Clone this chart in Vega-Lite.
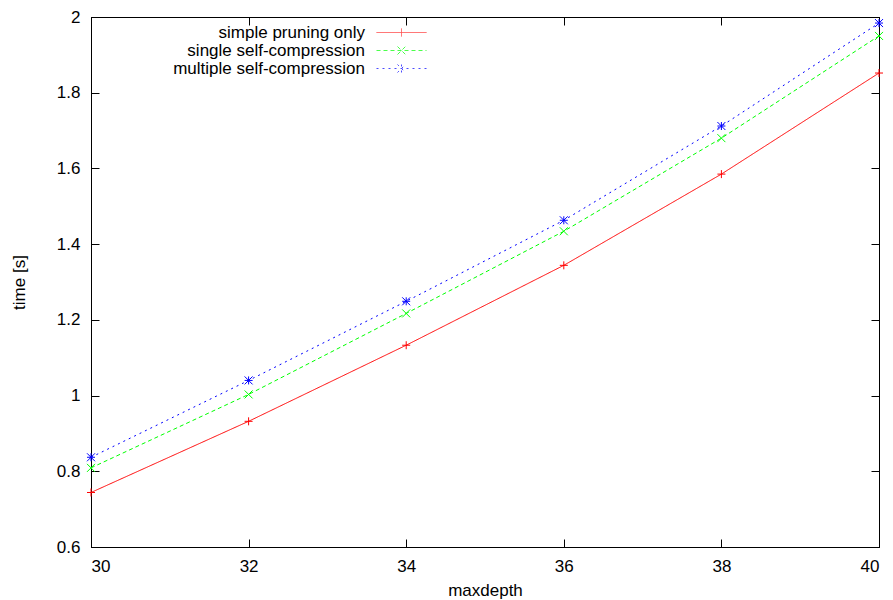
{
  "$schema": "https://vega.github.io/schema/vega-lite/v6.json",
  "width": 788,
  "height": 530,
  "autosize": {"type": "none"},
  "padding": {"left": 91, "top": 17, "right": 14, "bottom": 53},
  "background": "white",
  "config": {
    "font": "Liberation Sans",
    "view": {"stroke": "black", "strokeWidth": 1},
    "axis": {"grid": false, "domainColor": "black", "tickColor": "black", "labelColor": "black", "titleColor": "black", "labelFont": "Liberation Sans", "titleFont": "Liberation Sans", "labelFontSize": 17, "titleFontSize": 17, "titleFontWeight": "normal"},
    "legend": {"orient": "none", "legendX": 302, "legendY": 7, "title": null, "padding": 0, "symbolSize": 100, "symbolStrokeWidth": 1, "labelAlign": "right", "labelOffset": -45, "labelFontSize": 17, "labelFont": "Liberation Sans", "labelColor": "black", "rowPadding": 0, "labelLimit": 0}
  },
  "data": {
    "values": [
      {"series": "simple pruning only", "depth": 30, "time": 0.744},
      {"series": "simple pruning only", "depth": 32, "time": 0.932},
      {"series": "simple pruning only", "depth": 34, "time": 1.133},
      {"series": "simple pruning only", "depth": 36, "time": 1.344},
      {"series": "simple pruning only", "depth": 38, "time": 1.585},
      {"series": "simple pruning only", "depth": 40, "time": 1.852},
      {"series": "single self-compression", "depth": 30, "time": 0.809},
      {"series": "single self-compression", "depth": 32, "time": 1.003},
      {"series": "single self-compression", "depth": 34, "time": 1.217},
      {"series": "single self-compression", "depth": 36, "time": 1.434},
      {"series": "single self-compression", "depth": 38, "time": 1.680},
      {"series": "single self-compression", "depth": 40, "time": 1.950},
      {"series": "multiple self-compression", "depth": 30, "time": 0.837},
      {"series": "multiple self-compression", "depth": 32, "time": 1.040},
      {"series": "multiple self-compression", "depth": 34, "time": 1.249},
      {"series": "multiple self-compression", "depth": 36, "time": 1.463},
      {"series": "multiple self-compression", "depth": 38, "time": 1.712},
      {"series": "multiple self-compression", "depth": 40, "time": 1.984}
    ]
  },
  "layer": [
    {
      "mark": {"type": "line", "strokeWidth": 1, "clip": true},
      "encoding": {
        "x": {"field": "depth", "type": "quantitative", "scale": {"domain": [30, 40], "nice": false, "zero": false},
              "axis": {"orient": "bottom", "title": "maxdepth", "values": [30, 32, 34, 36, 38, 40], "tickSize": -8, "labelPadding": 19, "titlePadding": 8, "domain": true}},
        "y": {"field": "time", "type": "quantitative", "scale": {"domain": [0.6, 2], "nice": false, "zero": false},
              "axis": {"orient": "left", "title": "time [s]", "values": [0.6, 0.8, 1, 1.2, 1.4, 1.6, 1.8, 2], "format": "~g", "tickSize": -8, "labelPadding": 19, "titlePadding": 28, "domain": true}},
        "color": {"field": "series", "type": "nominal", "legend": null,
                  "scale": {"domain": ["simple pruning only", "single self-compression", "multiple self-compression"], "range": ["#ff0000", "#00ff00", "#0000ff"]}},
        "strokeDash": {"field": "series", "type": "nominal", "legend": null,
                  "scale": {"domain": ["simple pruning only", "single self-compression", "multiple self-compression"], "range": [[1, 0], [4, 3], [2, 4]]}}
      }
    },
    {
      "mark": {"type": "point", "filled": false, "strokeWidth": 1, "size": 64, "opacity": 1},
      "encoding": {
        "x": {"field": "depth", "type": "quantitative", "axis": null},
        "y": {"field": "time", "type": "quantitative", "axis": null},
        "color": {"field": "series", "type": "nominal", "legend": null,
                  "scale": {"domain": ["simple pruning only", "single self-compression", "multiple self-compression"], "range": ["#ff0000", "#00ff00", "#0000ff"]}},
        "shape": {"field": "series", "type": "nominal", "legend": null,
                  "scale": {"domain": ["simple pruning only", "single self-compression", "multiple self-compression"],
                            "range": ["M-1,0H1M0,-1V1", "M-1,-1L1,1M-1,1L1,-1", "M-1,0H1M0,-1V1M-1,-1L1,1M-1,1L1,-1"]}}
      }
    },
    {
      "transform": [{"filter": "datum.depth > 100"}],
      "mark": {"type": "point", "filled": false, "strokeWidth": 1},
      "encoding": {
        "x": {"field": "depth", "type": "quantitative",
              "axis": {"orient": "top", "title": null, "labels": false, "values": [30, 32, 34, 36, 38, 40], "tickSize": -8, "domain": true}},
        "y": {"field": "time", "type": "quantitative",
              "axis": {"orient": "right", "title": null, "labels": false, "values": [0.6, 0.8, 1, 1.2, 1.4, 1.6, 1.8, 2], "tickSize": -8, "domain": true}},
        "color": {"field": "series", "type": "nominal",
                  "scale": {"domain": ["simple pruning only", "single self-compression", "multiple self-compression"], "range": ["#ff0000", "#00ff00", "#0000ff"]}},
        "strokeDash": {"field": "series", "type": "nominal",
                  "scale": {"domain": ["simple pruning only", "single self-compression", "multiple self-compression"], "range": [[1, 0], [4, 3], [2, 4]]}},
        "shape": {"field": "series", "type": "nominal",
                  "scale": {"domain": ["simple pruning only", "single self-compression", "multiple self-compression"],
                            "range": ["M-5,0H5M0,-0.8V0.8", "M-5,0H5M-0.8,-0.8L0.8,0.8M-0.8,0.8L0.8,-0.8", "M-5,0H5M0,-0.8V0.8M-0.8,-0.8L0.8,0.8M-0.8,0.8L0.8,-0.8"]}}
      }
    }
  ],
  "resolve": {
    "scale": {"color": "independent", "shape": "independent", "strokeDash": "independent"},
    "axis": {"x": "independent", "y": "independent"}
  }
}
